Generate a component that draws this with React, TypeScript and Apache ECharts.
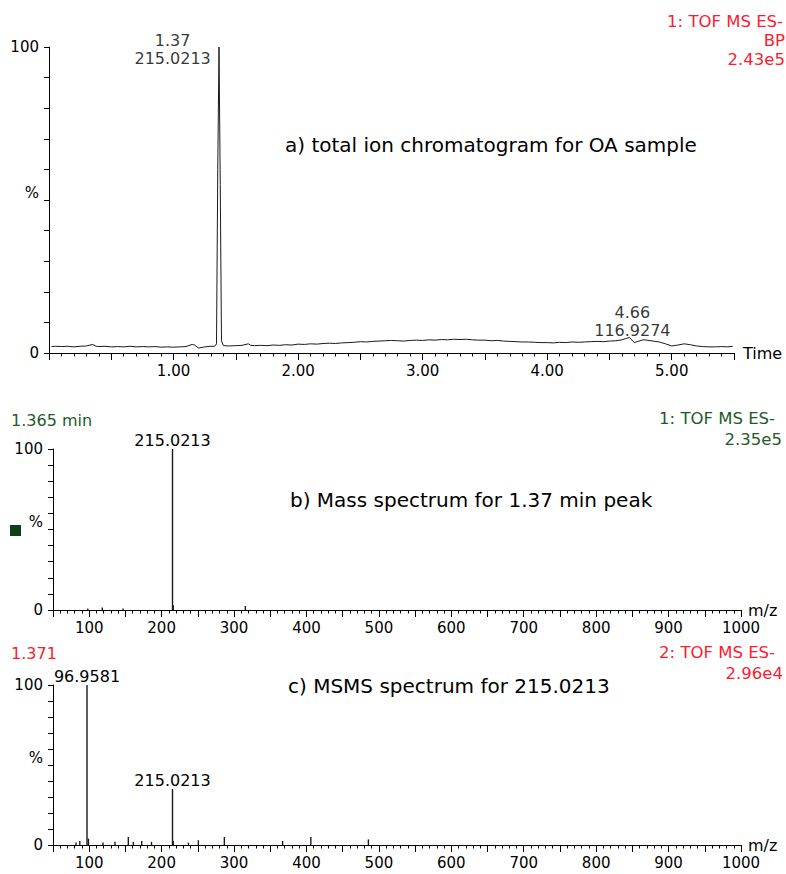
import React, { useEffect, useRef } from 'react';
import * as echarts from 'echarts';

// ---------- a) total ion chromatogram ----------
const ticTimes = [
  0.02, 0.05, 0.1, 0.15, 0.2, 0.25, 0.3, 0.35, 0.38, 0.4, 0.45, 0.5, 0.55, 0.6, 0.65, 0.7, 0.75, 0.8,
  0.85, 0.9, 0.95, 1.0, 1.05, 1.1, 1.15, 1.17, 1.2, 1.25, 1.3, 1.33, 1.345, 1.355, 1.365, 1.375, 1.385,
  1.4, 1.45, 1.5, 1.55, 1.6, 1.62, 1.65, 1.7, 1.75, 1.8, 1.85, 1.9, 1.95, 2.0, 2.05, 2.1, 2.15, 2.2,
  2.25, 2.3, 2.35, 2.4, 2.45, 2.5, 2.55, 2.6, 2.65, 2.7, 2.75, 2.8, 2.85, 2.9, 2.95, 3.0, 3.05, 3.1,
  3.15, 3.2, 3.25, 3.3, 3.35, 3.4, 3.45, 3.5, 3.55, 3.6, 3.65, 3.7, 3.75, 3.8, 3.85, 3.9, 3.95, 4.0,
  4.05, 4.1, 4.15, 4.2, 4.25, 4.3, 4.35, 4.4, 4.45, 4.5, 4.55, 4.6, 4.63, 4.66, 4.7, 4.73, 4.77, 4.8,
  4.85, 4.9, 4.95, 5.0, 5.05, 5.1, 5.15, 5.2, 5.25, 5.3, 5.35, 5.4, 5.45, 5.49,
];
const ticIntensity = [
  2.1, 2.2, 2.1, 2.2, 2.0, 2.2, 2.3, 2.8, 2.2, 2.1, 2.2, 2.0, 2.1, 2.0, 2.2, 2.0, 2.1, 2.0,
  2.1, 1.9, 2.0, 1.9, 2.0, 2.1, 2.8, 2.6, 1.6, 2.0, 2.2, 2.2, 3.0, 60, 100, 55, 4,
  2.4, 2.3, 2.4, 2.5, 3.0, 2.5, 2.4, 2.5, 2.4, 2.6, 2.5, 2.7, 2.6, 2.9, 2.8, 3.0, 2.9, 3.1,
  3.2, 3.1, 3.3, 3.4, 3.5, 3.7, 3.6, 3.8, 3.9, 4.0, 4.1, 4.0, 3.9, 4.1, 4.2, 4.1, 4.3, 4.2,
  4.4, 4.3, 4.5, 4.4, 4.5, 4.3, 4.2, 4.2, 4.0, 4.1, 3.9, 3.8, 3.7, 3.6, 3.6, 3.5, 3.4, 3.4,
  3.3, 3.5, 3.4, 3.6, 3.5, 3.6, 3.7, 3.8, 3.7, 3.9, 4.0, 4.3, 4.7, 5.1, 3.4, 3.8, 4.3, 4.2,
  3.9, 3.6, 3.0, 2.3, 2.6, 3.0, 2.7, 2.3, 2.1, 2.0, 2.0, 2.1, 2.0, 2.2,
];
const ticAnnotTimes = [1.37, 4.66];
const ticAnnotIntensity = [100, 5.1];
const ticAnnotMz = ['215.0213', '116.9274'];

// ---------- b) mass spectrum ----------
const msMz = [98.0, 118.0, 146.7, 215.0213, 216.02, 315.6];
const msIntensity = [1.0, 1.5, 1.0, 100, 3.0, 2.5];
const msLabelled = [215.0213];

// ---------- c) MSMS spectrum ----------
const msmsMz = [81.8, 87.0, 96.9581, 98.96, 119.0, 135.6, 154.0, 161.0, 172.5, 186.0, 215.0213, 216.0, 237.0, 250.7, 286.6, 367.0, 406.0, 485.5];
const msmsIntensity = [1.5, 2.5, 100, 4.0, 1.5, 2.0, 5.0, 2.0, 2.5, 2.0, 35, 2.5, 1.5, 3.0, 5.0, 2.5, 5.0, 3.5];
const msmsLabelled = [96.9581, 215.0213];

// tick labels
const timeLabels = [1, 2, 3, 4, 5];
const yLabels: Record<number, string> = { 0: '0', 50: '%', 100: '100' };

const FONT = '"DejaVu Sans", Verdana, sans-serif';
const INK = '#000000';
const RED = '#ff1a2e';
const GREEN = '#1f5a2a';

function yAxisCfg(gridIndex: number) {
  return {
    type: 'value',
    gridIndex,
    min: 0,
    max: 100,
    interval: 10,
    axisLine: { show: true, lineStyle: { color: INK, width: 1 } },
    axisTick: { show: true, length: 5, lineStyle: { color: INK } },
    splitLine: { show: false },
    axisLabel: {
      margin: 10,
      fontFamily: FONT,
      fontSize: 15,
      color: INK,
      formatter: (v: number) => {
        const s = yLabels[v];
        if (s === undefined) return '';
        return v === 50 ? '{p|%}' : s;
      },
      rich: { p: { fontFamily: FONT, fontSize: 15, color: INK, padding: [0, 0, 15, 0] } },
    },
  };
}

function mzAxisCfg(gridIndex: number) {
  return {
    type: 'value',
    gridIndex,
    min: 50,
    max: 1000,
    interval: 50,
    name: 'm/z',
    nameLocation: 'end',
    nameGap: 7,
    nameTextStyle: { fontFamily: FONT, fontSize: 16, color: INK, verticalAlign: 'middle' },
    axisLine: { show: true, lineStyle: { color: INK, width: 1 } },
    axisTick: { show: true, length: 7, lineStyle: { color: INK } },
    minorTick: { show: true, splitNumber: 5, length: 3.5, lineStyle: { color: INK } },
    splitLine: { show: false },
    axisLabel: {
      margin: 10,
      fontFamily: FONT,
      fontSize: 15,
      color: INK,
      showMinLabel: false,
      formatter: (v: number) => (v % 100 === 0 ? String(v) : ''),
    },
  };
}

function stickData(mz: number[], inten: number[], labelled: number[]) {
  return mz.map((m, i) => {
    const item: any = { value: [m, inten[i]] };
    if (labelled.includes(m)) {
      item.label = {
        show: true,
        position: 'top',
        distance: 1,
        formatter: m.toFixed(4),
        fontFamily: FONT,
        fontSize: 16,
        color: INK,
      };
    }
    return item;
  });
}

function txt(text: string, x: number, y: number, color: string, size: number, align = 'left') {
  return {
    type: 'text',
    x,
    y,
    silent: true,
    style: { text, fill: color, fontFamily: FONT, fontSize: size, align, verticalAlign: 'middle' },
  };
}

export default function App() {
  const ref = useRef<HTMLDivElement>(null);
  useEffect(() => {
    if (!ref.current) return;
    const chart = echarts.init(ref.current, undefined, { renderer: 'svg' });
    const option: any = {
      animation: false,
      backgroundColor: '#ffffff',
      grid: [
        { left: 49, top: 47, width: 685, height: 306 },
        { left: 53, top: 449, width: 688, height: 161 },
        { left: 53, top: 685, width: 688, height: 160 },
      ],
      xAxis: [
        {
          type: 'value',
          gridIndex: 0,
          min: 0,
          max: 5.5,
          interval: 0.5,
          name: 'Time',
          nameLocation: 'end',
          nameGap: 9,
          nameTextStyle: { fontFamily: FONT, fontSize: 16, color: INK, verticalAlign: 'middle' },
          axisLine: { show: true, lineStyle: { color: INK, width: 1 } },
          axisTick: { show: true, length: 7, lineStyle: { color: INK } },
          minorTick: { show: true, splitNumber: 5, length: 3.5, lineStyle: { color: INK } },
          splitLine: { show: false },
          axisLabel: {
            margin: 10,
            fontFamily: FONT,
            fontSize: 15,
            color: INK,
            formatter: (v: number) => (timeLabels.includes(v) ? v.toFixed(2) : ''),
          },
        },
        mzAxisCfg(1),
        mzAxisCfg(2),
      ],
      yAxis: [yAxisCfg(0), yAxisCfg(1), yAxisCfg(2)],
      series: [
        {
          type: 'line',
          xAxisIndex: 0,
          yAxisIndex: 0,
          data: ticTimes.map((t, i) => [t, ticIntensity[i]]),
          showSymbol: false,
          symbol: 'none',
          lineStyle: { color: '#1a1a1a', width: 1 },
          silent: true,
        },
        {
          type: 'scatter',
          xAxisIndex: 0,
          yAxisIndex: 0,
          symbol: 'rect',
          symbolSize: 1,
          itemStyle: { color: 'rgba(0,0,0,0)' },
          silent: true,
          data: ticAnnotTimes.map((t, i) => ({
            value: [t, ticAnnotIntensity[i]],
            label: {
              show: true,
              position: 'inside',
              align: 'center',
              verticalAlign: 'middle',
              offset: i === 0 ? [-47, 2] : [3, -16],
              lineHeight: 18,
              fontFamily: FONT,
              fontSize: 16,
              color: INK,
              formatter: t.toFixed(2) + '\n' + ticAnnotMz[i],
            },
          })),
        },
        {
          type: 'bar',
          xAxisIndex: 1,
          yAxisIndex: 1,
          barWidth: 1.4,
          itemStyle: { color: '#1a1a1a' },
          silent: true,
          data: stickData(msMz, msIntensity, msLabelled),
        },
        {
          type: 'bar',
          xAxisIndex: 2,
          yAxisIndex: 2,
          barWidth: 1.4,
          itemStyle: { color: '#1a1a1a' },
          silent: true,
          data: stickData(msmsMz, msmsIntensity, msmsLabelled),
        },
      ],
      graphic: [
        txt('1: TOF MS ES-', 783, 21, RED, 16.5, 'right'),
        txt('BP', 785, 40, RED, 16.5, 'right'),
        txt('2.43e5', 785, 59, RED, 16.5, 'right'),
        txt('a) total ion chromatogram for OA sample', 285, 145, INK, 20),
        txt('1.365 min', 11, 420, GREEN, 16),
        txt('1: TOF MS ES-', 775, 418, GREEN, 16.5, 'right'),
        txt('2.35e5', 782, 439, GREEN, 16.5, 'right'),
        { type: 'rect', x: 10, y: 525, shape: { width: 11, height: 11 }, style: { fill: '#0f3f16' }, silent: true },
        txt('b) Mass spectrum for 1.37 min peak', 290, 500, INK, 20),
        txt('1.371', 11, 653, RED, 16),
        txt('2: TOF MS ES-', 775, 652, RED, 16.5, 'right'),
        txt('2.96e4', 783, 673, RED, 16.5, 'right'),
        txt('c) MSMS spectrum for 215.0213', 288, 686, INK, 20),
      ],
    };
    chart.setOption(option);
    return () => chart.dispose();
  }, []);
  return (
    <div
      ref={ref}
      style={{ position: 'absolute', left: 0, top: 0, width: 786, height: 874, background: '#fff' }}
    />
  );
}
